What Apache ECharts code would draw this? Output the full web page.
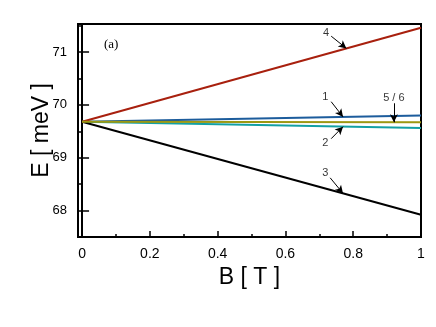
<!DOCTYPE html>
<html>
<head>
<meta charset="utf-8">
<script src="https://cdn.jsdelivr.net/npm/echarts@6/dist/echarts.min.js"></script>
<style>
  html, body { margin: 0; padding: 0; background: #fff; }
  #chart { width: 436px; height: 327px; }
</style>
</head>
<body>
<div id="chart"></div>
<script>
// field values [T]
const fieldB = [0, 1]

// energy levels [meV] at each field value
const level1 = [69.68, 69.80]
const level2 = [69.68, 69.56]
const level3 = [69.68, 67.92]
const level4 = [69.68, 71.46]
const level56 = [69.68, 69.67]

const levelNames = ['1', '2', '3', '4', '5 / 6']
const levelColors = ['#1c5c9c', '#12a0a4', '#000000', '#a8200e', '#9c9812']
const levelValues = [level1, level2, level3, level4, level56]

// annotation: text, text position (B, E), arrow start (B, E), arrow target B on its level
const noteText = ['4', '1', '5 / 6', '2', '3']
const noteLevel = [3, 0, 4, 1, 2]
const notePos = [[0.72, 71.36], [0.718, 70.15], [0.92, 70.13], [0.718, 69.27], [0.718, 68.71]]
const arrowFrom = [[0.735, 71.3], [0.735, 70.06], [0.92, 70.03], [0.735, 69.36], [0.732, 68.62]]
const arrowToB = [0.78, 0.77, 0.92, 0.77, 0.77]

const yTicks = ['68', '69', '70', '71']

function levelAt(values, b) {
  const t = (b - fieldB[0]) / (fieldB[1] - fieldB[0])
  return values[0] + (values[1] - values[0]) * t
}

const font = 'Liberation Sans, Arial, sans-serif'
const chart = echarts.init(document.getElementById('chart'), null, { renderer: 'canvas' })

const lineSeries = levelValues.map((vals, i) => ({
  name: levelNames[i],
  type: 'line',
  data: fieldB.map((b, k) => [b, vals[k]]),
  showSymbol: false,
  lineStyle: { color: levelColors[i], width: 2 },
  itemStyle: { color: levelColors[i] },
  z: i === 4 ? 4 : 3
}))

const arrows = noteText.map((t, i) => {
  const b = arrowToB[i]
  const e = levelAt(levelValues[noteLevel[i]], b)
  return [{ coord: arrowFrom[i] }, { coord: [b, e] }]
})

const option = {
  animation: false,
  textStyle: { fontFamily: font },
  grid: {
    left: 78, right: 15, top: 24, bottom: 90,
    show: true, borderColor: '#000', borderWidth: 2, backgroundColor: 'transparent'
  },
  xAxis: {
    type: 'value',
    min: -0.012,
    max: 1,
    splitNumber: 5,
    name: 'B [ T ]',
    nameLocation: 'middle',
    nameGap: 29,
    nameMoveOverlap: false,
    nameTextStyle: { fontSize: 23, color: '#000', fontFamily: font },
    axisLine: { lineStyle: { color: '#000', width: 2 } },
    axisTick: { inside: true, length: 6, lineStyle: { color: '#000', width: 1.5 } },
    minorTick: { show: true, splitNumber: 2, length: 3, lineStyle: { color: '#000', width: 1.5 } },
    splitLine: { show: false },
    axisLabel: {
      showMinLabel: false,
      margin: 10,
      fontSize: 14,
      color: '#000',
      fontFamily: font
    }
  },
  yAxis: [
    {
      type: 'value',
      min: 67.5,
      max: 71.53,
      splitNumber: 4,
      name: 'E [ meV ]',
      nameLocation: 'middle',
      nameGap: 25,
      nameMoveOverlap: false,
      nameTextStyle: { fontSize: 23, color: '#000', fontFamily: font },
      axisLine: { lineStyle: { color: '#000', width: 2 } },
      axisTick: { inside: true, length: 7, lineStyle: { color: '#000', width: 1.5 } },
      splitLine: { show: false },
      axisLabel: {
        showMinLabel: false,
        showMaxLabel: false,
        margin: 11,
        fontSize: 13,
        color: '#000',
        fontFamily: font,
        formatter: (v) => (yTicks.includes(String(v)) ? String(v) : '')
      }
    },
    {
      type: 'value',
      position: 'left',
      offset: 0,
      min: 67.5,
      max: 71.53,
      interval: 0.5,
      axisLine: { show: false },
      axisTick: { inside: true, length: 3.5, lineStyle: { color: '#000', width: 1.5 } },
      splitLine: { show: false },
      axisLabel: { show: false }
    }
  ],
  graphic: [
    {
      type: 'text',
      left: 104,
      top: 38,
      style: { text: '(a)', font: '13px "Liberation Serif", serif', fill: '#000' }
    }
  ],
  series: [
    ...lineSeries,
    {
      type: 'scatter',
      data: notePos.map((p, i) => [p[0], p[1], noteText[i]]),
      symbolSize: 0,
      silent: true,
      label: {
        show: true,
        position: 'inside',
        formatter: (p) => p.data[2],
        fontSize: 11,
        color: '#000',
        fontFamily: font
      },
      markLine: {
        silent: true,
        symbol: ['none', 'arrow'],
        symbolSize: [6, 8],
        label: { show: false },
        lineStyle: { color: '#000', width: 1, type: 'solid' },
        data: arrows
      },
      z: 5
    }
  ]
}

chart.setOption(option)
</script>
</body>
</html>
